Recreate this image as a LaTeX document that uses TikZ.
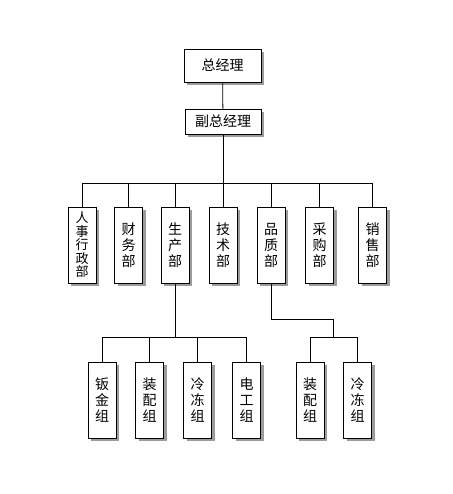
\documentclass[tikz,border=0pt]{standalone}
\usepackage{fontspec}
\newfontfamily\cjk{Noto Sans CJK SC}
\usetikzlibrary{shadows}

\begin{document}
\begin{tikzpicture}[x=1pt,y=-1pt]
\useasboundingbox[fill=white] (0,0) rectangle (452,494);
				\begin{scope}[every node/.style={draw=black,fill=white,line width=0.8pt,inner sep=0pt,
				              font=\cjk\fontsize{14}{16}\selectfont,align=center,
				              drop shadow={shadow xshift=3pt,shadow yshift=-3pt,fill=black!55,opacity=0.7}},
				              unit/.style={minimum width=28pt,minimum height=76pt}]
				    \node[minimum width=77pt,minimum height=33pt] (GM) at (222.5,65.5) {总经理};
				    \node[minimum width=76pt,minimum height=25pt] (VGM) at (223,121.5) {副总经理};
				    \node[unit,font=\cjk\fontsize{13}{13.5}\selectfont] (HR) at (82,245) {人\\事\\行\\政\\部};
				    \node[unit] (FIN) at (128.5,245) {财\\务\\部};
				    \node[unit] (PROD) at (175,245) {生\\产\\部};
				    \node[unit] (TECH) at (223,245) {技\\术\\部};
				    \node[unit] (QA) at (271,245) {品\\质\\部};
				    \node[unit] (BUY) at (319.5,245) {采\\购\\部};
				    \node[unit] (SALE) at (372.5,245) {销\\售\\部};
				    \node[unit] (P1) at (102,400) {钣\\金\\组};
				    \node[unit] (P2) at (149.5,400) {装\\配\\组};
				    \node[unit] (P3) at (197.5,400) {冷\\冻\\组};
				    \node[unit] (P4) at (246.5,400) {电\\工\\组};
				    \node[unit] (Q1) at (310,400) {装\\配\\组};
				    \node[unit] (Q2) at (357.5,400) {冷\\冻\\组};
				\end{scope}

				\coordinate (bus1) at (0,183);
				\coordinate (bus2) at (0,337);
				\coordinate (bend) at (0,319);

				\begin{scope}[line width=0.8pt]
				    \draw (GM) -- (VGM);
				    \draw (VGM) -- (VGM.south |- bus1);
				    \draw (HR.north) -- (HR.north |- bus1) -- (SALE.north |- bus1) -- (SALE.north);
				    \foreach \d in {FIN,PROD,TECH,QA,BUY}
				        \draw (\d.north) -- (\d.north |- bus1);
				    \draw (PROD.south) -- (PROD.south |- bus2);
				    \draw (P1.north) -- (P1.north |- bus2) -- (P4.north |- bus2) -- (P4.north);
				    \foreach \d in {P2,P3}
				        \draw (\d.north) -- (\d.north |- bus2);
				    \draw (QA.south) -- (QA.south |- bend) -- (333.75,319) -- (333.75,337);
				    \draw (Q1.north) -- (Q1.north |- bus2) -- (Q2.north |- bus2) -- (Q2.north);
				\end{scope}
\end{tikzpicture}
\end{document}
